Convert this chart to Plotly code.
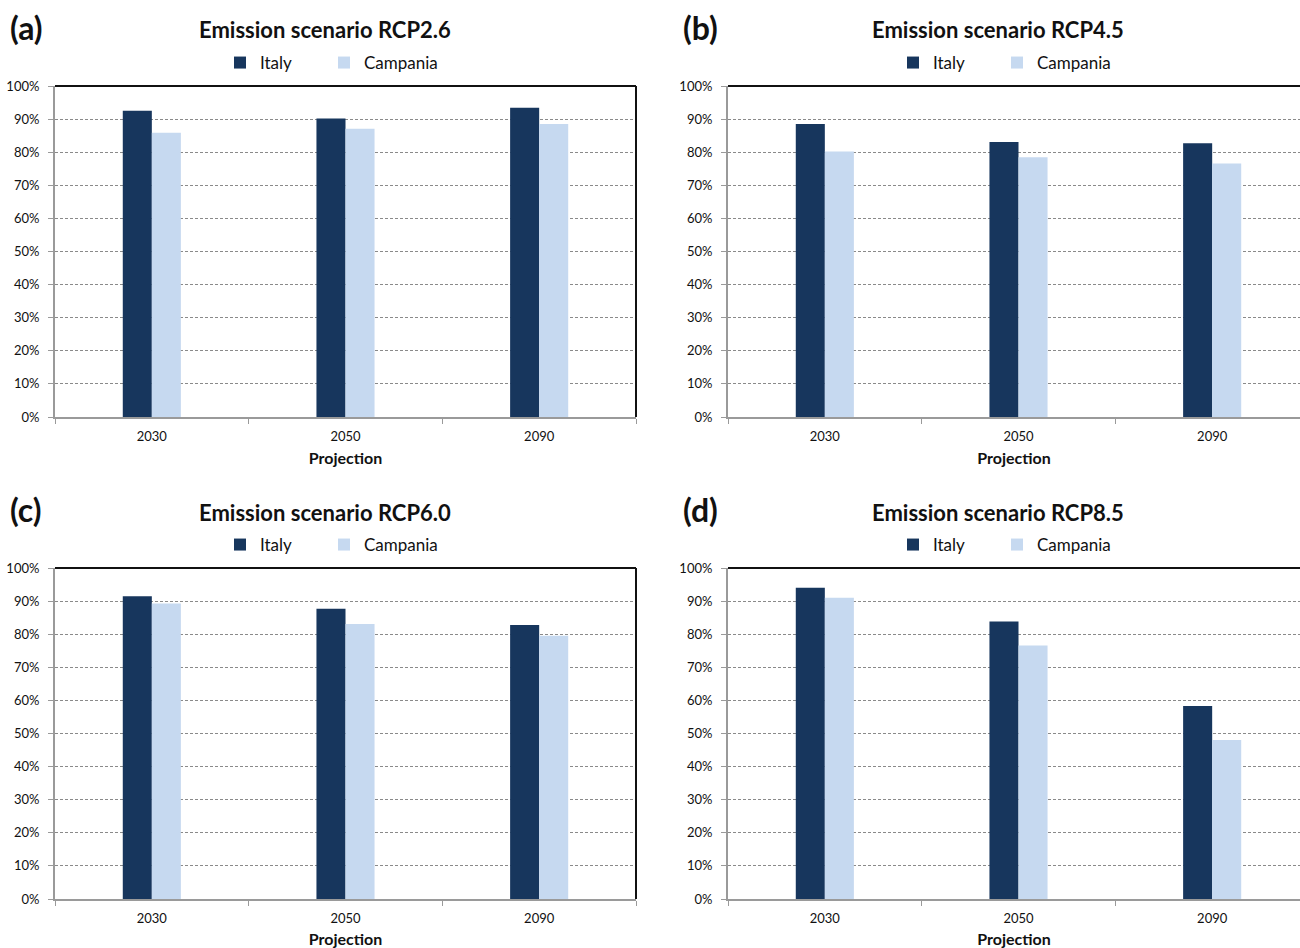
import plotly.graph_objects as go

# Projection years and scenario data (share, 0-1)
years = ["2030", "2050", "2090"]
scenarios = ["RCP2.6", "RCP4.5", "RCP6.0", "RCP8.5"]
panel_tags = ["(a)", "(b)", "(c)", "(d)"]

italy_rcp26 = [0.925, 0.902, 0.934]
campania_rcp26 = [0.859, 0.871, 0.885]
italy_rcp45 = [0.885, 0.831, 0.827]
campania_rcp45 = [0.802, 0.785, 0.766]
italy_rcp60 = [0.915, 0.877, 0.828]
campania_rcp60 = [0.893, 0.831, 0.795]
italy_rcp85 = [0.940, 0.838, 0.583]
campania_rcp85 = [0.910, 0.766, 0.480]

italy_series = [italy_rcp26, italy_rcp45, italy_rcp60, italy_rcp85]
campania_series = [campania_rcp26, campania_rcp45, campania_rcp60, campania_rcp85]

W, H = 1300, 948
FONT = "Lato"
ITALY_COLOR = "#17365d"
CAMPANIA_COLOR = "#c6d9f0"

# pixel geometry of each panel: (left, right, top(100%), bottom(0%))
cat_px = 581 / 3
panels = [
    (55, 636, 86, 417),
    (728, 1300, 86, 417),
    (55, 636, 568, 899),
    (728, 1300, 568, 899),
]

fig = go.Figure()


def legend_box(x_px, y_px):
    return dict(orientation="h", x=x_px / W, y=(H - y_px) / H,
                xanchor="left", yanchor="middle", bgcolor="rgba(0,0,0,0)",
                font=dict(family=FONT, size=17, color="#111"), itemwidth=30)


for i, (x0, x1, ytop, ybot) in enumerate(panels):
    n = i + 1
    xa = "x" if n == 1 else f"x{n}"
    ya = "y" if n == 1 else f"y{n}"
    leg_italy = "legend" if n == 1 else f"legend{2 * n - 1}"
    leg_camp = f"legend{2 * n}"
    fig.add_trace(go.Bar(x=years, y=italy_series[i], name="Italy",
                         marker=dict(color=ITALY_COLOR, line=dict(width=0)),
                         xaxis=xa, yaxis=ya, legend=leg_italy))
    fig.add_trace(go.Bar(x=years, y=campania_series[i], name="Campania",
                         marker=dict(color=CAMPANIA_COLOR, line=dict(width=0)),
                         xaxis=xa, yaxis=ya, legend=leg_camp))

    xkey = "xaxis" if n == 1 else f"xaxis{n}"
    ykey = "yaxis" if n == 1 else f"yaxis{n}"
    span = (x1 - x0) / cat_px
    fig.layout[xkey] = dict(
        domain=[x0 / W, x1 / W], anchor=ya, type="category",
        range=[-0.5, -0.5 + span], showgrid=False, automargin=False,
        showline=True, linecolor="#9a9a9a", linewidth=1.5,
        ticks="outside", ticklen=5, tickcolor="#9a9a9a", tickson="boundaries",
        tickfont=dict(family=FONT, size=13, color="#111"),
        ticklabelstandoff=7,
        title=dict(text="<b>Projection</b>", font=dict(family=FONT, size=16, color="#111"), standoff=9),
        fixedrange=True,
    )
    fig.layout[ykey] = dict(
        domain=[(H - ybot) / H, (H - ytop) / H], anchor=xa, automargin=False,
        range=[0, 1], dtick=0.1, tickformat=".0%",
        showgrid=True, gridcolor="#8a8a8a", gridwidth=1, griddash="3px,2px",
        showline=True, linecolor="#9a9a9a", linewidth=2,
        ticks="outside", ticklen=5, tickcolor="#9a9a9a",
        tickfont=dict(family=FONT, size=13, color="#111"),
        ticklabelstandoff=6,
        zeroline=False, fixedrange=True,
    )

    # frame lines: solid top at 100% and, where visible, right edge
    fig.add_shape(type="line", xref=f"{xa} domain", yref=f"{ya} domain",
                  x0=0, x1=1, y0=1, y1=1, line=dict(color="#111", width=2))
    if x1 < W:
        fig.add_shape(type="line", xref=f"{xa} domain", yref=f"{ya} domain",
                      x0=1, x1=1, y0=0, y1=1, line=dict(color="#111", width=2))

    title_y = ytop - 56
    fig.add_annotation(text=f"<b>Emission scenario {scenarios[i]}</b>",
                       xref="paper", yref="paper", x=(x0 + 270) / W, y=(H - title_y) / H,
                       xanchor="center", yanchor="middle", showarrow=False,
                       font=dict(family=FONT, size=22, color="#111"))
    fig.add_annotation(text=f"<b>{panel_tags[i]}</b>",
                       xref="paper", yref="paper", x=(x0 - 47) / W, y=(H - (ytop - 59)) / H,
                       xanchor="left", yanchor="middle", showarrow=False,
                       font=dict(family=FONT, size=32, color="#111"))

    fig.layout[leg_italy] = legend_box(x0 + 165, ytop - 23)
    fig.layout[leg_camp] = legend_box(x0 + 269, ytop - 23)

fig.update_layout(
    width=W, height=H, margin=dict(l=0, r=0, t=0, b=0, autoexpand=False),
    paper_bgcolor="white", plot_bgcolor="white",
    barmode="group", bargap=0.7, bargroupgap=0,
    showlegend=True,
)

fig.write_html("out.html")
